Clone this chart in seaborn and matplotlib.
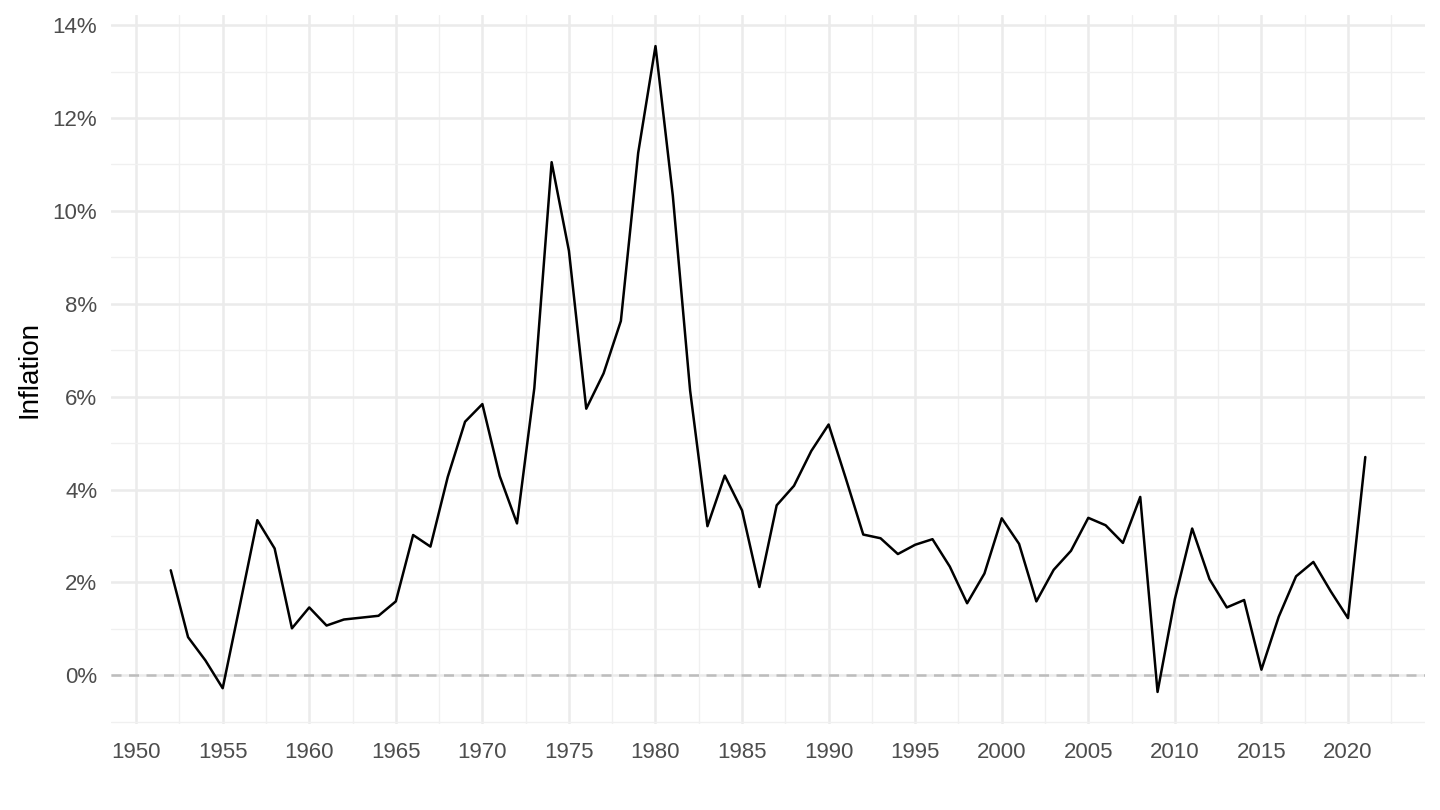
import matplotlib
matplotlib.use("Agg")
import matplotlib.pyplot as plt
import matplotlib.ticker as mticker
import seaborn as sns
import pandas as pd

years = list(range(1952, 2022))
inflation = [2.26, 0.82, 0.32, -0.28, 1.52, 3.34, 2.73, 1.01, 1.46, 1.07,
             1.20, 1.24, 1.28, 1.59, 3.02, 2.77, 4.27, 5.46, 5.84, 4.29,
             3.27, 6.18, 11.05, 9.14, 5.74, 6.50, 7.63, 11.25, 13.55, 10.33,
             6.13, 3.21, 4.30, 3.55, 1.90, 3.66, 4.08, 4.83, 5.40, 4.23,
             3.03, 2.95, 2.61, 2.81, 2.93, 2.34, 1.55, 2.19, 3.38, 2.83,
             1.59, 2.27, 2.68, 3.39, 3.23, 2.85, 3.84, -0.36, 1.64, 3.16,
             2.07, 1.46, 1.62, 0.12, 1.26, 2.13, 2.44, 1.81, 1.23, 4.70]

df = pd.DataFrame({"year": years, "inflation": inflation})

sns.set_theme(style="white")
plt.rcParams['font.family'] = ['Liberation Sans', 'DejaVu Sans']

fig = plt.figure(figsize=(14.4, 8.1), dpi=100)
ax = fig.add_axes([0.0771, 0.1062, 0.9125, 0.8753])

ax.axhline(0, color="#bdbdbd", linestyle=(0, (4, 3)), linewidth=1.8, zorder=1)
sns.lineplot(data=df, x="year", y="inflation", ax=ax, color="black", linewidth=1.8, zorder=3)

ax.set_xlim(1948.55, 2024.45)
ax.set_ylim(-1.05, 14.22)
ax.xaxis.set_major_locator(mticker.MultipleLocator(5))
ax.xaxis.set_minor_locator(mticker.MultipleLocator(2.5))
ax.yaxis.set_major_locator(mticker.MultipleLocator(2))
ax.yaxis.set_minor_locator(mticker.MultipleLocator(1))
ax.yaxis.set_major_formatter(mticker.FuncFormatter(lambda v, p: f"{v:.0f}%"))
ax.xaxis.set_major_formatter(mticker.FuncFormatter(lambda v, p: f"{v:.0f}"))

ax.grid(which="major", color="#ebebeb", linewidth=1.8, zorder=0)
ax.grid(which="minor", color="#f0f0f0", linewidth=1.0, zorder=0)
ax.set_axisbelow(True)
for s in ax.spines.values():
    s.set_visible(False)
ax.tick_params(which="both", length=0, labelsize=16, colors="#4d4d4d")
ax.tick_params(axis="y", pad=10)
ax.tick_params(axis="x", pad=13)

ax.set_xlabel("")
ax.set_ylabel("Inflation", fontsize=20, color="black", labelpad=7.5)

fig.savefig("out.png", dpi=100)
